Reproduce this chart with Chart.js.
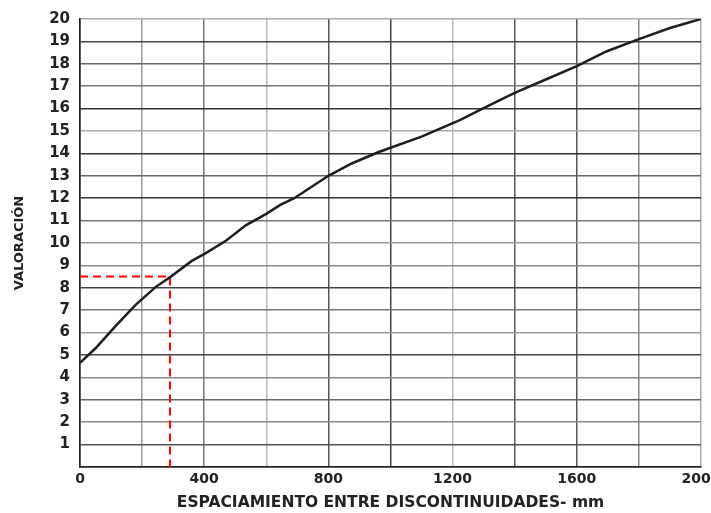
<html>
<head>
<meta charset="utf-8">
<script src="https://cdn.jsdelivr.net/npm/chart.js@4/dist/chart.umd.min.js"></script>
<style>
  html, body { margin: 0; padding: 0; background: #fff; }
  #wrap { width: 711px; height: 513px; }
</style>
</head>
<body>
<div id="wrap"><canvas id="myChart"></canvas></div>
<script>
// curve (spacing in mm -> rating)
var spacing = [0, 50, 115, 180, 245, 293, 360, 405, 470, 535, 600, 645, 690, 800, 875, 960, 1000, 1100, 1225, 1290, 1400, 1500, 1600, 1695, 1800, 1900, 2000];
var rating  = [4.65, 5.3, 6.3, 7.25, 8.05, 8.5, 9.2, 9.55, 10.1, 10.8, 11.3, 11.7, 12.0, 13.0, 13.55, 14.05, 14.25, 14.75, 15.5, 15.95, 16.7, 17.3, 17.9, 18.55, 19.1, 19.6, 20];

// red dashed reading guide
var guideSpacing = 290;
var guideRating = 8.5;

var xTickLabels = [0, 400, 800, 1200, 1600, 2000];
var yTickLabels = [1, 2, 3, 4, 5, 6, 7, 8, 9, 10, 11, 12, 13, 14, 15, 16, 17, 18, 19, 20];

var xTitle = 'ESPACIAMIENTO ENTRE DISCONTINUIDADES- mm';
var yTitle = 'VALORACIÓN';

// grid shades (the scan is uneven)
var xGridColors = ['#333', '#999', '#777', '#bbb', '#555', '#444', '#bbb', '#555', '#555', '#888', '#aaa'];
var yGridColors = ['#333', '#555', '#888', '#666', '#888', '#444', '#999', '#777', '#444', '#888', '#999', '#777', '#333', '#666', '#333', '#aaa', '#333', '#777', '#666', '#444', '#aaa'];

var font = '"DejaVu Sans", Verdana, sans-serif';

var ctx = document.getElementById('myChart').getContext('2d');
var myChart = new Chart(ctx, {
  type: 'line',
  data: {
    datasets: [{
      label: 'curve',
      data: spacing.map(function (s, i) { return { x: s, y: rating[i] }; }),
      borderColor: '#1e1e1e',
      borderWidth: 2.5,
      pointRadius: 0,
      tension: 0,
      fill: false
    }, {
      label: 'guide',
      data: [
        { x: 0, y: guideRating },
        { x: guideSpacing, y: guideRating },
        { x: guideSpacing, y: -0.2 }
      ],
      borderColor: '#ff0000',
      borderWidth: 2,
      borderDash: [8, 5],
      pointRadius: 0,
      tension: 0,
      fill: false,
      clip: false
    }]
  },
  options: {
    responsive: true,
    maintainAspectRatio: false,
    animation: false,
    layout: { padding: { top: 13, right: 10, bottom: 0, left: 0 } },
    plugins: { legend: { display: false }, tooltip: { enabled: false } },
    scales: {
      x: {
        type: 'linear',
        min: 0, max: 2000,
        afterFit: function (scale) { scale.paddingRight = 0; scale.height = 46; },
        ticks: {
          stepSize: 200,
          padding: 4,
          maxRotation: 0,
          autoSkip: false,
          color: '#222',
          font: { family: font, size: 14, weight: 'bold' },
          callback: function (v) { return xTickLabels.indexOf(v) >= 0 ? String(v) : ''; }
        },
        grid: {
          drawTicks: false,
          lineWidth: 1.5,
          color: function (c) { return xGridColors[c.index] || '#888'; }
        },
        border: { color: '#222', width: 1.5 },
        title: {
          display: true,
          text: xTitle,
          color: '#222',
          padding: { top: 0, bottom: 1 },
          font: { family: font, size: 15.5, weight: 'bold' }
        }
      },
      y: {
        type: 'linear',
        min: 0, max: 20,
        afterFit: function (scale) { scale.width = 80; },
        ticks: {
          stepSize: 1,
          padding: 10,
          autoSkip: false,
          color: '#222',
          font: { family: font, size: 15, weight: 'bold' },
          callback: function (v) { return yTickLabels.indexOf(v) >= 0 ? String(v) : ''; }
        },
        grid: {
          drawTicks: false,
          lineWidth: 1.5,
          color: function (c) { return yGridColors[c.index] || '#888'; }
        },
        border: { color: '#222', width: 1.5 },
        title: {
          display: true,
          text: yTitle,
          color: '#222',
          padding: { top: 12, bottom: 0 },
          font: { family: font, size: 13, weight: 'bold' }
        }
      }
    }
  }
});
</script>
</body>
</html>
